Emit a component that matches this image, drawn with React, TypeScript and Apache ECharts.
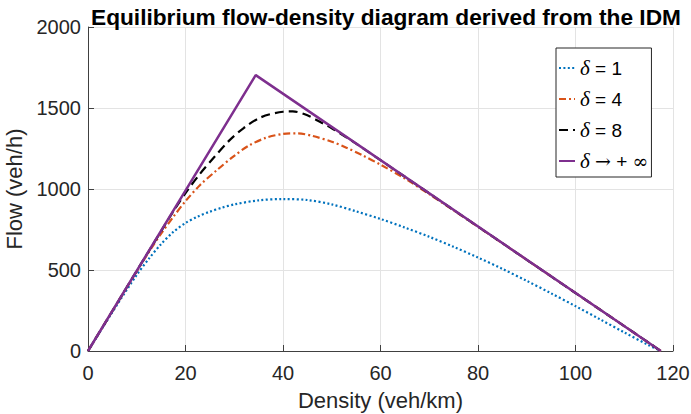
import React, { useEffect, useRef } from "react";
import * as echarts from "echarts";

const TITLE = "Equilibrium flow-density diagram derived from the IDM";
const X_LABEL = "Density (veh/km)";
const Y_LABEL = "Flow (veh/h)";

// delta = 1
const d1Density = [0, 5, 10, 12.5, 15, 17.5, 20, 22.5, 25, 27.5, 30, 35, 40, 45, 50, 55, 60, 65, 70, 75, 80, 85, 90, 95, 100, 105, 110, 115, 117.5];
const d1Flow = [0, 240, 470, 570, 660, 735, 790, 830, 860, 885, 905, 930, 938, 932, 905, 862, 815, 762, 705, 643, 577, 507, 433, 356, 277, 196, 115, 36, 0];

// delta = 4
const d4Density = [0, 5, 10, 13, 15, 17.5, 20, 23, 26.5, 30, 33, 36.5, 40, 43, 46, 50, 53, 56.5, 60, 65, 70, 75, 80, 85, 90, 95, 100, 105, 110, 115, 117.5];
const d4Flow = [0, 247, 492, 635, 725, 828, 925, 1025, 1118, 1205, 1268, 1316, 1340, 1344, 1328, 1292, 1255, 1205, 1150, 1065, 968, 868, 767, 665, 563, 461, 358, 256, 154, 51, 0];

// delta = 8
const d8Density = [0, 5, 10, 15, 17.5, 20, 23, 26, 29, 32, 35.5, 40, 42, 45, 48, 50, 52, 55, 60, 70, 80, 90, 100, 110, 117.5];
const d8Flow = [0, 247, 495, 740, 862, 975, 1095, 1200, 1300, 1378, 1443, 1477, 1479, 1455, 1408, 1375, 1338, 1280, 1178, 973, 768, 563, 358, 154, 0];

// delta -> +infinity (triangular)
const dInfDensity = [0, 34.4, 117.5];
const dInfFlow = [0, 1703, 0];

const X_TICKS = { min: 0, max: 120, interval: 20 };
const Y_TICKS = { min: 0, max: 2000, interval: 500 };

const LEGEND_TEXT: Record<string, string> = {
  d1: "{d|δ} = 1",
  d4: "{d|δ} = 4",
  d8: "{d|δ} = 8",
  dinf: "{d|δ} {a|→} + {a|∞}",
};

const pairs = (xs: number[], ys: number[]) => xs.map((x, i) => [x, ys[i]]);

export default function App() {
  const ref = useRef<HTMLDivElement>(null);
  useEffect(() => {
    if (!ref.current) return;
    const chart = echarts.init(ref.current, null, { renderer: "svg" });
    const font = "Liberation Sans, Arial, Helvetica, sans-serif";
    const axisColor = "#262626";
    chart.setOption({
      animation: false,
      backgroundColor: "#ffffff",
      textStyle: { fontFamily: font },
      title: {
        text: TITLE,
        left: 86,
        top: 0,
        textStyle: { fontFamily: font, fontWeight: "bold", fontSize: 22.7, color: "#000000" },
      },
      grid: { left: 88, right: 18, top: 27, bottom: 63, containLabel: false, outerBoundsMode: "none" },
      legend: {
        orient: "vertical",
        left: 556,
        top: 48,
        itemWidth: 16,
        itemHeight: 14,
        itemGap: 9,
        padding: [9, 3, 5, 2],
        borderColor: "#262626",
        borderWidth: 1,
        backgroundColor: "#ffffff",
        data: ["d1", "d4", "d8", "dinf"],
        formatter: (name: string) => LEGEND_TEXT[name],
        itemStyle: { opacity: 0 },
        textStyle: {
          fontFamily: font,
          fontSize: 19,
          lineHeight: 22,
          color: "#000000",
          rich: {
            d: { fontFamily: "Liberation Serif, DejaVu Serif, serif", fontStyle: "italic", fontSize: 21, lineHeight: 22, color: "#000000" },
            a: { fontFamily: "DejaVu Serif, serif", fontSize: 19, lineHeight: 22, color: "#000000" },
          },
        },
      },
      xAxis: {
        type: "value",
        min: X_TICKS.min,
        max: X_TICKS.max,
        interval: X_TICKS.interval,
        name: X_LABEL,
        nameLocation: "middle",
        nameGap: 38,
        nameTextStyle: { fontFamily: font, fontSize: 22, color: axisColor },
        axisLine: { show: true, lineStyle: { color: "#404040", width: 1 } },
        axisTick: { show: true, inside: true, length: 6, lineStyle: { color: "#404040" } },
        axisLabel: { fontFamily: font, fontSize: 20, color: axisColor, margin: 12 },
        splitLine: { show: true, lineStyle: { color: "#e3e3e3", width: 1 } },
      },
      yAxis: {
        type: "value",
        min: Y_TICKS.min,
        max: Y_TICKS.max,
        interval: Y_TICKS.interval,
        name: Y_LABEL,
        nameLocation: "middle",
        nameGap: 54,
        nameTextStyle: { fontFamily: font, fontSize: 22, color: axisColor },
        axisLine: { show: true, lineStyle: { color: "#404040", width: 1 } },
        axisTick: { show: true, inside: true, length: 6, lineStyle: { color: "#404040" } },
        axisLabel: { fontFamily: font, fontSize: 20, color: axisColor, margin: 7, formatter: (v: number) => String(v) },
        splitLine: { show: true, lineStyle: { color: "#e3e3e3", width: 1 } },
      },
      series: [
        {
          name: "d1",
          type: "line",
          data: pairs(d1Density, d1Flow),
          smooth: 0.3,
          symbol: "none",
          lineStyle: { color: "#0072BD", width: 2.2, type: [2, 2.4], cap: "butt" },
          itemStyle: { color: "#0072BD" },
        },
        {
          name: "d4",
          type: "line",
          data: pairs(d4Density, d4Flow),
          smooth: 0.3,
          symbol: "none",
          lineStyle: { color: "#D95319", width: 2.2, type: [7, 3, 2, 3], cap: "butt" },
          itemStyle: { color: "#D95319" },
        },
        {
          name: "d8",
          type: "line",
          data: pairs(d8Density, d8Flow),
          smooth: 0.3,
          symbol: "none",
          lineStyle: { color: "#000000", width: 2.2, type: [9, 5], cap: "butt" },
          itemStyle: { color: "#000000" },
        },
        {
          name: "dinf",
          type: "line",
          data: pairs(dInfDensity, dInfFlow),
          symbol: "none",
          lineStyle: { color: "#7E2F8E", width: 2.5, type: "solid" },
          itemStyle: { color: "#7E2F8E" },
        },
      ],
    });
    return () => chart.dispose();
  }, []);
  return <div ref={ref} style={{ width: 691, height: 414, position: "absolute", left: 0, top: 0 }} />;
}
